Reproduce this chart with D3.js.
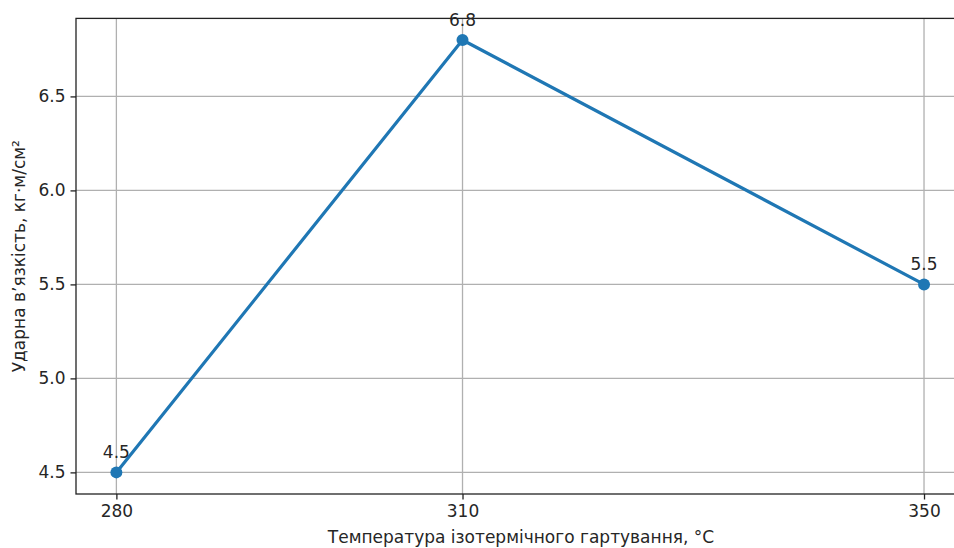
<!DOCTYPE html>
<html><head><meta charset="utf-8">
<script src="https://cdn.jsdelivr.net/npm/d3@7"></script>
<style>
html,body{margin:0;padding:0;background:#fff;overflow:hidden}
text{font-family:"DejaVu Sans",sans-serif;fill:#262626}
</style></head>
<body><svg id="c" width="954" height="548"></svg>
<script>
const temperatures = [280, 310, 350];
const toughness = [4.5, 6.8, 5.5];
const xTicks = [280, 310, 350];
const yTicks = [4.5, 5.0, 5.5, 6.0, 6.5];
const xLabel = "Температура ізотермічного гартування, °C";
const yLabel = "Ударна в’язкість, кг·м/см²";

const svg = d3.select("#c");
const FS = 17;
const L = 76, R = 964.4, T = 18.4, B = 494;
const xPad = (d3.max(temperatures) - d3.min(temperatures)) * 0.05;
const yPad = (d3.max(toughness) - d3.min(toughness)) * 0.05;
const x = d3.scaleLinear().domain([d3.min(temperatures) - xPad, d3.max(temperatures) + xPad]).range([L, R]);
const y = d3.scaleLinear().domain([d3.min(toughness) - yPad, d3.max(toughness) + yPad]).range([B, T]);

// grid
const g = svg.append("g");
g.selectAll("line.vx").data(xTicks).join("line")
  .attr("x1", d => x(d)).attr("x2", d => x(d)).attr("y1", T).attr("y2", B)
  .attr("stroke", "#b0b0b0").attr("stroke-width", 1.3);
g.selectAll("line.hy").data(yTicks).join("line")
  .attr("y1", d => y(d)).attr("y2", d => y(d)).attr("x1", L).attr("x2", R)
  .attr("stroke", "#b0b0b0").attr("stroke-width", 1.3);

// axes
const xAxis = d3.axisBottom(x).tickValues(xTicks).tickFormat(d3.format("d")).tickSize(5.5).tickPadding(5);
const yAxis = d3.axisLeft(y).tickValues(yTicks).tickFormat(d3.format(".1f")).tickSize(5.5).tickPadding(5);
const gx = svg.append("g").attr("transform", `translate(0,${B})`).call(xAxis);
const gy = svg.append("g").attr("transform", `translate(${L},0)`).call(yAxis);
[gx, gy].forEach(a => {
  a.select(".domain").remove();
  a.selectAll(".tick line").attr("stroke", "#222").attr("stroke-width", 1.3);
  a.selectAll(".tick text").attr("font-size", FS).attr("fill", "#262626").attr("font-family", "DejaVu Sans");
});

// spines
svg.append("rect").attr("x", L).attr("y", T).attr("width", R - L).attr("height", B - T)
  .attr("fill", "none").attr("stroke", "#222").attr("stroke-width", 1.3);

// line
const pts = temperatures.map((t, i) => [t, toughness[i]]);
svg.append("path").datum(pts)
  .attr("d", d3.line().x(d => x(d[0])).y(d => y(d[1])))
  .attr("fill", "none").attr("stroke", "#1f77b4").attr("stroke-width", 3.2)
  .attr("stroke-linejoin", "round");
svg.selectAll("circle.pt").data(pts).join("circle")
  .attr("cx", d => x(d[0])).attr("cy", d => y(d[1])).attr("r", 6).attr("fill", "#1f77b4");
svg.selectAll("text.ann").data(pts).join("text")
  .attr("x", d => x(d[0])).attr("y", d => y(d[1]) - 14)
  .attr("text-anchor", "middle").attr("font-size", FS).text(d => d[1].toFixed(1));

// labels
svg.append("text").attr("x", 521).attr("y", 543)
  .attr("text-anchor", "middle").attr("font-size", FS).text(xLabel);
svg.append("text").attr("transform", `translate(25,${(T + B) / 2}) rotate(-90)`)
  .attr("text-anchor", "middle").attr("font-size", FS).text(yLabel);
</script></body></html>
